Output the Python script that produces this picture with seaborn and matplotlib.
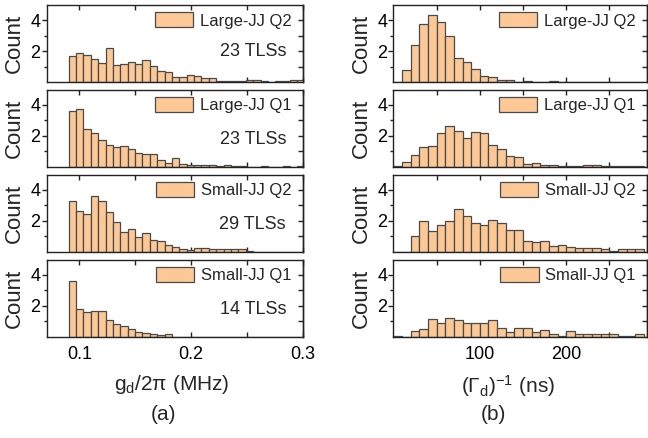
import numpy as np
import pandas as pd
import matplotlib
matplotlib.use("Agg")
import matplotlib.pyplot as plt
import seaborn as sns
from matplotlib.ticker import FixedLocator, FormatStrFormatter

# ---- data -------------------------------------------------------------
qubit_names = ["Large-JJ Q2", "Large-JJ Q1", "Small-JJ Q2", "Small-JJ Q1"]
tls_numbers = [23, 23, 29, 14]

# coupling strength g_d/2pi (MHz): bin layout
gd_first_edge = 0.0904
gd_bin_width = 0.0066
gd_bin_count = 32

gd_large_q2 = [1.70, 1.91, 1.78, 1.50, 1.24, 2.24, 1.11, 1.20, 1.28, 1.20, 1.46, 1.07,
               0.70, 0.63, 0.33, 0.33, 0.43, 0.37, 0.28, 0.24, 0.09, 0.04, 0.04, 0.04,
               0.11, 0.11, 0.04, 0.03, 0.07, 0.09, 0.11, 0.13]
gd_large_q1 = [3.63, 3.76, 2.46, 2.17, 1.70, 1.39, 1.24, 1.30, 1.11, 0.85, 0.81, 0.80,
               0.45, 0.23, 0.52, 0.17, 0.09, 0.07, 0.07, 0.11, 0.04, 0.09, 0.04, 0.04,
               0.00, 0.00, 0.04, 0.00, 0.00, 0.03, 0.00, 0.02]
gd_small_q2 = [3.29, 2.60, 2.43, 3.59, 3.31, 2.54, 1.94, 1.27, 1.44, 0.97, 1.18, 0.77,
               0.65, 0.41, 0.32, 0.15, 0.11, 0.22, 0.22, 0.15, 0.17, 0.13, 0.13, 0.13,
               0.06, 0.00, 0.00, 0.00, 0.00, 0.00, 0.00, 0.00]
gd_small_q1 = [3.60, 1.78, 1.61, 1.68, 1.64, 1.09, 0.78, 0.65, 0.48, 0.30, 0.21, 0.17,
               0.08, 0.18, 0.00, 0.00, 0.00, 0.00, 0.00, 0.00, 0.00, 0.00, 0.00, 0.00,
               0.00, 0.00, 0.00, 0.00, 0.00, 0.00, 0.00, 0.00]

# decay time (Gamma_d)^-1 (ns): bin layout
tau_first_edge = 0.0
tau_bin_width = 10.0
tau_bin_count = 30

tau_large_q2 = [0.00, 0.78, 2.39, 3.74, 4.33, 3.87, 2.97, 1.57, 1.33, 0.84, 0.41, 0.32,
                0.11, 0.15, 0.00, 0.04, 0.00, 0.00, 0.04, 0.00, 0.00, 0.00, 0.00, 0.00,
                0.00, 0.00, 0.00, 0.00, 0.00, 0.00]
tau_large_q1 = [0.04, 0.30, 0.73, 1.27, 1.35, 2.16, 2.60, 2.30, 1.85, 2.27, 2.17, 1.41,
                1.13, 0.69, 0.61, 0.15, 0.20, 0.11, 0.09, 0.04, 0.04, 0.04, 0.09, 0.11,
                0.04, 0.06, 0.02, 0.04, 0.02, 0.00]
tau_small_q2 = [0.00, 0.00, 1.03, 2.01, 1.35, 1.70, 2.01, 2.74, 2.31, 1.86, 1.75, 2.02,
                1.82, 1.41, 1.41, 0.65, 0.59, 0.65, 0.36, 0.44, 0.26, 0.22, 0.22, 0.22,
                0.16, 0.06, 0.19, 0.19, 0.19, 0.00]
tau_small_q1 = [0.02, 0.00, 0.33, 0.48, 1.16, 0.90, 1.21, 1.05, 0.87, 0.90, 0.90, 1.08,
                0.57, 0.26, 0.53, 0.53, 0.32, 0.42, 0.13, 0.04, 0.36, 0.13, 0.17, 0.13,
                0.13, 0.17, 0.02, 0.02, 0.17, 0.00]

gd_series = [gd_large_q2, gd_large_q1, gd_small_q2, gd_small_q1]
tau_series = [tau_large_q2, tau_large_q1, tau_small_q2, tau_small_q1]

# ---- style ------------------------------------------------------------
sns.set_style("ticks")
plt.rcParams["font.family"] = ["Liberation Sans", "DejaVu Sans"]
plt.rcParams["mathtext.default"] = "regular"
plt.rcParams["axes.linewidth"] = 1.0
plt.rcParams["axes.edgecolor"] = "#222222"

BAR_FILL = "#FCC896"
BAR_EDGE = "#4a4a4a"

fig = plt.figure(figsize=(6.48, 4.38), dpi=100)
W, H = 648.0, 438.0

panel_tops = [5.0, 89.5, 174.5, 259.5]
panel_h = 77.0
columns = {
    "gd": dict(x0=46.7, x1=303.0),
    "tau": dict(x0=393.4, x1=647.0),
}


def edges_of(first, width, n):
    return [float(first + width * k) for k in range(n + 1)]


def style_axis(ax, xmajor, xminor, xlim, bottom_row):
    ax.set_xlim(*xlim)
    ax.set_ylim(0, 5)
    ax.yaxis.set_major_locator(FixedLocator([2, 4]))
    ax.yaxis.set_minor_locator(FixedLocator([1, 3]))
    ax.xaxis.set_major_locator(FixedLocator(xmajor))
    ax.xaxis.set_minor_locator(FixedLocator(xminor))
    ax.tick_params(axis="y", which="both", direction="out", left=True, right=False,
                   width=1.0, labelsize=13, pad=1.0, colors="#222222", labelcolor="black")
    ax.tick_params(axis="y", which="major", length=3.5)
    ax.tick_params(axis="y", which="minor", length=2.5)
    ax.tick_params(axis="x", which="both", direction="in", top=True, bottom=True,
                   width=1.0, length=3.5, labelsize=13, pad=6.5,
                   colors="#222222", labelcolor="black")
    ax.tick_params(axis="x", labelbottom=bottom_row)
    # inward ticks along the right spine
    sec = ax.secondary_yaxis("right")
    sec.yaxis.set_major_locator(FixedLocator([2, 4]))
    sec.yaxis.set_minor_locator(FixedLocator([1, 3]))
    sec.tick_params(axis="y", which="both", direction="in", length=3.5, width=1.0,
                    labelright=False, colors="#222222")
    sec.spines["right"].set_linewidth(1.0)
    ax.set_xlabel("")
    ax.set_ylabel("Count", fontsize=16)


for col, series, (first, width, n) in [
    ("gd", gd_series, (gd_first_edge, gd_bin_width, gd_bin_count)),
    ("tau", tau_series, (tau_first_edge, tau_bin_width, tau_bin_count)),
]:
    x0, x1 = columns[col]["x0"], columns[col]["x1"]
    edges = edges_of(first, width, n)
    centers = [0.5 * (a + b) for a, b in zip(edges[:-1], edges[1:])]
    for i, (name, counts) in enumerate(zip(qubit_names, series)):
        top = panel_tops[i]
        ax = fig.add_axes([x0 / W, 1 - (top + panel_h) / H, (x1 - x0) / W, panel_h / H])
        frame = pd.DataFrame({"value": centers, "count": counts})
        sns.histplot(data=frame, x="value", weights="count", bins=edges, ax=ax,
                     color=BAR_FILL, edgecolor=BAR_EDGE, linewidth=0.9, alpha=1.0,
                     label=name)
        bottom_row = i == len(qubit_names) - 1
        if col == "gd":
            style_axis(ax, [0.1, 0.2, 0.3], [0.15, 0.25], (0.0708, 0.3), bottom_row)
            ax.xaxis.set_major_formatter(FormatStrFormatter("%.1f"))
            ax.text(0.934, 0.39 if i == 0 else 0.345, f"{tls_numbers[i]} TLSs",
                    transform=ax.transAxes, ha="right", va="center", fontsize=13)
            ax.yaxis.set_label_coords(-0.085, 0.5)
            if bottom_row:
                ax.set_xlabel("g$_d$/2π (MHz)", fontsize=15)
                ax.xaxis.set_label_coords(0.489, -0.48)
        else:
            style_axis(ax, [100, 200], [50, 150, 250], (0, 293.5), bottom_row)
            ax.yaxis.set_label_coords(-0.084, 0.5)
            if bottom_row:
                ax.set_xlabel("(Γ$_d$)$^{-1}$ (ns)", fontsize=15)
                ax.xaxis.set_label_coords(0.452, -0.48)
        ax.legend(loc="upper right", bbox_to_anchor=(0.985, 1.0), frameon=False,
                  fontsize=12, handlelength=2.3, handleheight=1.0, handletextpad=0.4,
                  borderaxespad=0.2, borderpad=0.25)

fig.text(164 / W, 1 - 414 / H, "(a)", ha="center", va="center", fontsize=15)
fig.text(493 / W, 1 - 414 / H, "(b)", ha="center", va="center", fontsize=15)

fig.savefig("out.png", dpi=100)
